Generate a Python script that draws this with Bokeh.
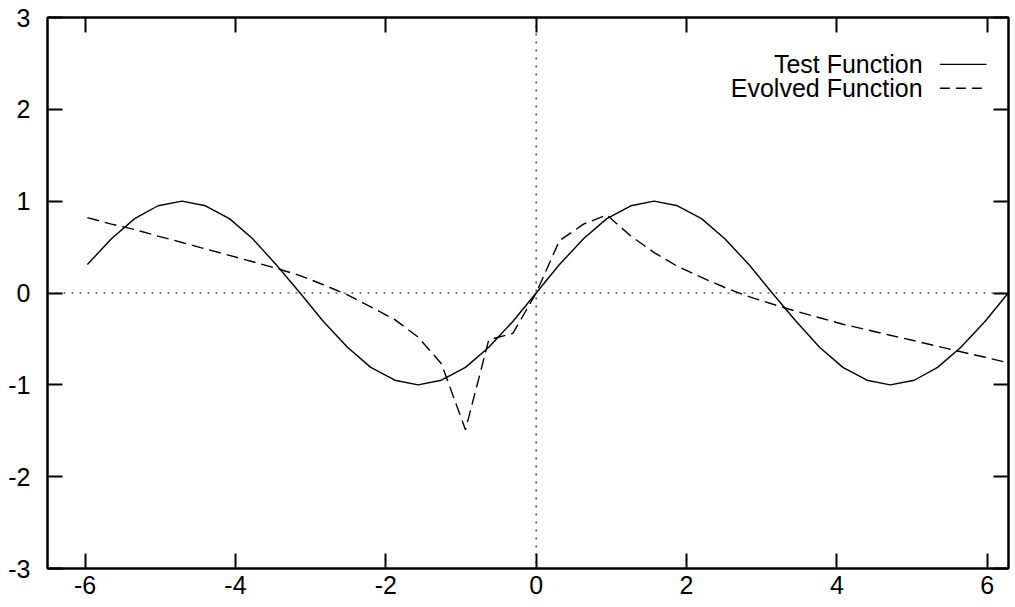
from bokeh.plotting import figure
from bokeh.models import Range1d, FixedTicker, LinearAxis, Span, Label, Arrow
from bokeh.embed import file_html
from bokeh.resources import INLINE

# ---- data ----
x_vals = [-5.97, -5.65, -5.34, -5.03, -4.71, -4.40, -4.08, -3.77, -3.46, -3.14,
          -2.83, -2.51, -2.20, -1.88, -1.57, -1.26, -0.94, -0.63, -0.31, 0.00,
          0.31, 0.63, 0.94, 1.26, 1.57, 1.88, 2.20, 2.51, 2.83, 3.14,
          3.46, 3.77, 4.08, 4.40, 4.71, 5.03, 5.34, 5.65, 5.97, 6.28]
test_y = [0.31, 0.59, 0.81, 0.95, 1.00, 0.95, 0.81, 0.59, 0.31, 0.00,
          -0.31, -0.59, -0.81, -0.95, -1.00, -0.95, -0.81, -0.59, -0.31, 0.00,
          0.31, 0.59, 0.81, 0.95, 1.00, 0.95, 0.81, 0.59, 0.31, 0.00,
          -0.31, -0.59, -0.81, -0.95, -1.00, -0.95, -0.81, -0.59, -0.31, 0.00]
evolved_y = [0.82, 0.75, 0.69, 0.62, 0.55, 0.48, 0.41, 0.34, 0.27, 0.19,
             0.09, -0.02, -0.15, -0.29, -0.48, -0.77, -1.49, -0.51, -0.44, 0.00,
             0.57, 0.75, 0.85, 0.62, 0.44, 0.29, 0.17, 0.06, -0.04, -0.12,
             -0.20, -0.27, -0.34, -0.40, -0.46, -0.52, -0.58, -0.64, -0.70, -0.76]
x_ticks = [-6, -4, -2, 0, 2, 4, 6]
y_ticks = [-3, -2, -1, 0, 1, 2, 3]
series_names = ["Test Function", "Evolved Function"]

FONT = "Liberation Sans"
FS = "25px"

p = figure(width=1013, height=603, output_backend="svg", toolbar_location=None,
           x_range=Range1d(-6.5, 6.2832), y_range=Range1d(-3, 3),
           min_border_left=47, min_border_right=5, min_border_top=17,
           min_border_bottom=35)
p.background_fill_color = "white"
p.border_fill_color = "white"
p.grid.visible = False
p.outline_line_color = "black"
p.outline_line_width = 2

bx = p.xaxis[0]
bx.ticker = FixedTicker(ticks=x_ticks)
bx.major_label_overrides = {t: str(t) for t in x_ticks}
ly = p.yaxis[0]
ly.ticker = FixedTicker(ticks=y_ticks)
ly.major_label_overrides = {t: str(t) for t in y_ticks}
for ax, st in ((bx, 7), (ly, 17)):
    ax.axis_line_color = "black"
    ax.axis_line_width = 2
    ax.major_tick_in = 15
    ax.major_tick_out = 0
    ax.major_tick_line_width = 2
    ax.minor_tick_line_color = None
    ax.major_label_text_font = FONT
    ax.major_label_text_font_size = FS
    ax.major_label_text_color = "black"
    ax.major_label_standoff = st

tx = LinearAxis(ticker=FixedTicker(ticks=x_ticks))
tx.major_label_overrides = {t: "" for t in x_ticks}
ry = LinearAxis(ticker=FixedTicker(ticks=y_ticks))
ry.major_label_overrides = {t: "" for t in y_ticks}
for ax in (tx, ry):
    ax.axis_line_color = "black"
    ax.axis_line_width = 2
    ax.major_tick_in = 15
    ax.major_tick_out = 0
    ax.major_tick_line_width = 2
    ax.minor_tick_line_color = None
    ax.major_label_standoff = 0
p.add_layout(tx, "above")
p.add_layout(ry, "right")

# zero axes
p.add_layout(Span(location=0, dimension="width", line_color="#111111",
                  line_width=1.2, line_dash="2 6"))
p.add_layout(Span(location=0, dimension="height", line_color="#111111",
                  line_width=1.2, line_dash="2 6"))

# series
p.line(x_vals, test_y, line_color="black", line_width=1.4)
p.line(x_vals, evolved_y, line_color="black", line_width=1.4, line_dash="12 6")

# legend (gnuplot style: label then sample)
leg_y = [2.49, 2.23]
dashes = ["solid", "10 6"]
for name, yy, dsh in zip(series_names, leg_y, dashes):
    p.add_layout(Label(x=5.14, y=yy, text=name, text_align="right",
                       text_baseline="middle", text_font=FONT,
                       text_font_size=FS, text_color="black"))
    p.add_layout(Arrow(x_start=5.37, y_start=yy, x_end=5.99, y_end=yy,
                       end=None, line_color="black", line_width=1.4,
                       line_dash=dsh))

open("out.html", "w").write(file_html(p, INLINE))
